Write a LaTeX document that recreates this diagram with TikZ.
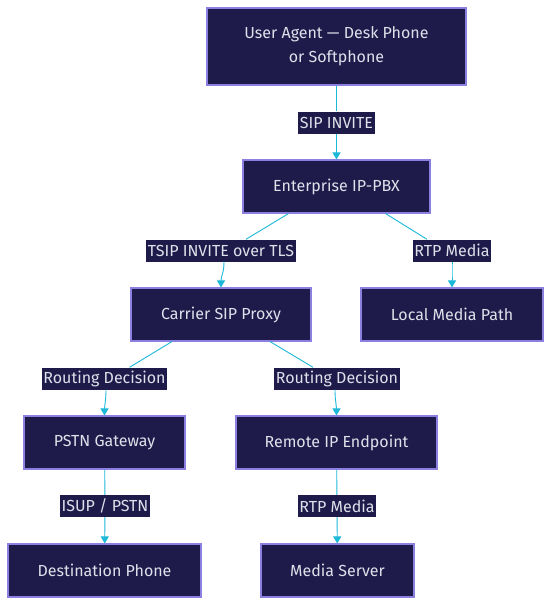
\documentclass[tikz,border=0pt]{standalone}
\usepackage{fontspec}
\setmainfont{Fira Sans}
\usetikzlibrary{arrows.meta}
\definecolor{boxfill}{HTML}{1E1B4B}
\definecolor{boxline}{HTML}{8B80E0}
\definecolor{txt}{HTML}{E0E0EA}
\definecolor{wirec}{HTML}{1BB8D8}

\begin{document}
\begin{tikzpicture}[>={Triangle[length=7pt,width=8pt]},x=1pt,y=-1pt]
\fontsize{16pt}{24pt}\selectfont
\tikzstyle{box}=[draw=boxline,fill=boxfill,text=txt,line width=1.1pt,minimum height=53pt,inner sep=0pt,align=center]
\tikzstyle{tag}=[fill=boxfill,text=txt,inner sep=1.5pt,minimum height=22pt]
\tikzstyle{wire}=[draw=wirec,line width=0.9pt]
\tikzstyle{arrow}=[wire,->]
	\useasboundingbox (0,0) rectangle (552,606);

	\node[box,minimum width=259pt,minimum height=77pt] (ua) at (336.5,46.5) {User Agent — Desk Phone\\or Softphone};
	\node[box,minimum width=187pt] (pbx) at (336.5,186.5) {Enterprise IP-PBX};
	\node[box,minimum width=180pt] (proxy) at (221,314.5) {Carrier SIP Proxy};
	\node[box,minimum width=182pt] (local) at (452,314.5) {Local Media Path};
	\node[box,minimum width=161pt] (pstn) at (104.5,442.5) {PSTN Gateway};
	\node[box,minimum width=201pt] (remote) at (336.5,442.5) {Remote IP Endpoint};
	\node[box,minimum width=193pt] (dest) at (104.5,570.5) {Destination Phone};
	\node[box,minimum width=153pt] (media) at (337.5,570.5) {Media Server};

	\node[tag] (sip) at (336.5,122.5) {SIP INVITE};
	\node[tag] (tsip) at (221,250.5) {TSIP INVITE over TLS};
	\node[tag] (rtpa) at (452,250.5) {RTP Media};
	\node[tag] (routea) at (104.5,378.5) {Routing Decision};
	\node[tag] (routeb) at (337,378.5) {Routing Decision};
	\node[tag] (isup) at (105,506) {ISUP / PSTN};
	\node[tag] (rtpb) at (337,506) {RTP Media};

	\path (ua) edge[wire] (sip);
	\path (sip) edge[arrow] (pbx);

	\draw[wire] ([xshift=-48pt]pbx.south) -- ([xshift=25pt]tsip.north);
	\draw[arrow] ([xshift=3pt]tsip.south) .. controls +(0,12) and +(0,-12) .. (proxy.north);
	\draw[wire] ([xshift=49pt]pbx.south) -- ([xshift=-25pt]rtpa.north);
	\draw[arrow] (rtpa.south) .. controls +(0,12) and +(0,-12) .. (local.north);

	\draw[wire] ([xshift=-49pt]proxy.south) -- ([xshift=25pt]routea.north);
	\draw[arrow] ([xshift=1.5pt]routea.south) .. controls +(0,12) and +(0,-12) .. (pstn.north);
	\draw[wire] ([xshift=49pt]proxy.south) -- ([xshift=-24pt]routeb.north);
	\draw[arrow] ([xshift=-2pt]routeb.south) .. controls +(0,12) and +(0,-12) .. (remote.north);

	\path (pstn) edge[wire] (isup);
	\path (isup) edge[arrow] (dest);
	\path (remote) edge[wire] (rtpb);
	\path (rtpb) edge[arrow] (media);
\end{tikzpicture}
\end{document}
